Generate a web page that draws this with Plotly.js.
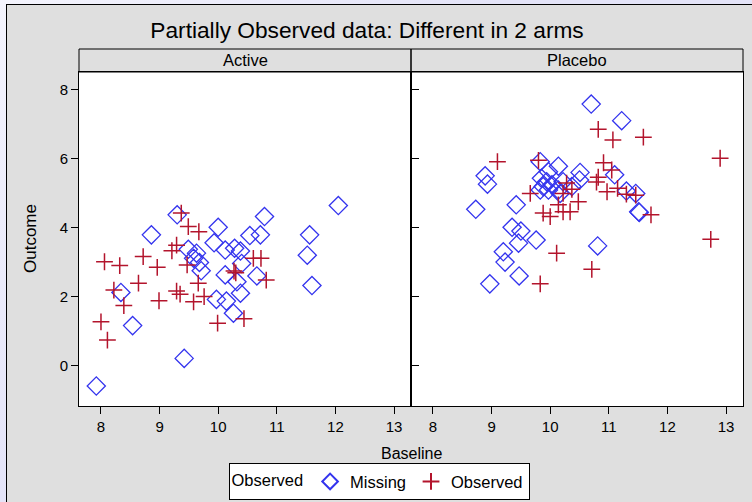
<!DOCTYPE html>
<html>
<head>
<meta charset="utf-8">
<script src="https://cdn.plot.ly/plotly-3.0.1.min.js"></script>
<style>
  html, body { margin: 0; padding: 0; width: 752px; height: 502px; overflow: hidden;
    background: linear-gradient(135deg, #f4f4fd 0%, #e4e4f8 40%, #e4e4f8 100%); }
  #frame { position: absolute; left: 6px; top: 4px; width: 800px; height: 600px;
    border-left: 1px solid #000; border-top: 1px solid #000; background: #dfdfdf; }
  #chart { position: absolute; left: 0; top: 0; width: 746px; height: 497px; }
</style>
</head>
<body>
<div id="frame"><div id="chart"></div></div>
<script>
// Active arm: baseline / outcome, missing outcomes shown as diamonds
const activeMissX = [7.92, 9.42, 8.54, 8.34, 8.86, 9.30, 10.00, 9.93, 9.49, 9.63, 9.58, 9.68, 9.71,
  10.12, 10.28, 10.38, 10.40, 10.12, 10.32, 10.66, 10.38, 9.97, 10.14, 10.26, 10.54, 10.72, 10.79,
  11.56, 11.52, 11.60, 12.05];
const activeMissY = [-0.58, 0.22, 1.17, 2.13, 3.80, 4.38, 4.02, 3.57, 3.38, 3.27, 3.12, 3.00, 2.76,
  3.36, 3.41, 3.33, 2.97, 2.64, 2.44, 2.61, 2.11, 1.93, 1.88, 1.53, 3.78, 3.80, 4.33,
  3.80, 3.21, 2.33, 4.65];
const activeObsX = [9.37, 9.49, 9.67, 8.72, 8.06, 8.32, 8.96, 9.29, 9.21, 9.47, 9.66, 8.64, 8.22,
  9.29, 9.35, 8.99, 8.39, 9.58, 9.76, 8.00, 8.11, 9.99, 10.27, 10.30, 10.44, 10.60, 10.73, 10.82];
const activeObsY = [4.43, 4.04, 3.89, 3.17, 3.02, 2.91, 2.86, 3.50, 3.34, 2.93, 2.40, 2.40, 2.20,
  2.17, 2.08, 1.89, 1.75, 1.86, 2.01, 1.28, 0.75, 1.24, 2.75, 2.70, 1.37, 3.12, 3.12, 2.49];

// Placebo arm
const placeboMissX = [8.89, 8.93, 8.73, 9.42, 9.35, 9.50, 9.46, 9.76, 9.20, 9.23, 9.47, 8.97,
  9.83, 10.14, 9.97, 9.85, 9.94, 9.88, 9.97, 9.83, 10.03, 10.22, 10.14, 10.37, 10.50, 10.51,
  10.70, 11.22, 11.10, 11.30, 11.46, 11.51, 11.52, 10.81, 10.17];
const placeboMissY = [5.51, 5.27, 4.54, 4.67, 4.02, 3.91, 3.56, 3.65, 3.31, 3.01, 2.61, 2.38,
  5.92, 5.79, 5.63, 5.44, 5.34, 5.20, 5.10, 5.10, 5.25, 5.34, 5.10, 5.20, 5.39, 5.61,
  7.59, 7.11, 5.54, 5.07, 5.00, 4.47, 4.45, 3.48, 5.00];
const placeboObsX = [9.10, 9.80, 9.66, 9.88, 10.00, 10.22, 10.14, 10.11, 9.83, 10.28, 10.37, 10.22,
  10.48, 10.34, 10.82, 11.07, 11.59, 12.90, 10.91, 11.05, 10.82, 10.79, 10.97, 11.15, 11.30, 11.46,
  11.72, 12.74, 10.71];
const placeboObsY = [5.92, 5.96, 5.00, 4.43, 4.33, 4.47, 4.67, 3.27, 2.38, 5.30, 5.12, 5.00,
  4.76, 4.47, 6.86, 6.55, 6.63, 6.02, 5.89, 5.68, 5.47, 5.33, 5.05, 5.15, 4.98, 4.95,
  4.38, 3.67, 2.80];

const panelNames = ['Active', 'Placebo'];
const xTicks = [8, 9, 10, 11, 12, 13];
const yTicks = [0, 2, 4, 6, 8];
const legendTitle = 'Observed';
const seriesNames = ['Missing', 'Observed'];

const FONT = 'Liberation Sans, Arial, sans-serif';
const BLUE = '#3434ee';
const RED = '#b3142c';

const missMarker = { symbol: 'diamond-open', size: 14, color: BLUE, line: { color: BLUE, width: 1.3 } };
const obsMarker = { symbol: 'cross-thin-open', size: 12, color: RED, line: { color: RED, width: 1.5 } };

const traces = [
  { x: activeMissX, y: activeMissY, xaxis: 'x', yaxis: 'y', type: 'scatter', mode: 'markers',
    name: seriesNames[0], marker: missMarker, legendgroup: 'm', hoverinfo: 'x+y' },
  { x: placeboMissX, y: placeboMissY, xaxis: 'x2', yaxis: 'y', type: 'scatter', mode: 'markers',
    name: seriesNames[0], marker: missMarker, legendgroup: 'm', showlegend: false, hoverinfo: 'x+y' },
  { x: activeObsX, y: activeObsY, xaxis: 'x', yaxis: 'y', type: 'scatter', mode: 'markers',
    name: seriesNames[1], marker: obsMarker, legendgroup: 'o', hoverinfo: 'x+y' },
  { x: placeboObsX, y: placeboObsY, xaxis: 'x2', yaxis: 'y', type: 'scatter', mode: 'markers',
    name: seriesNames[1], marker: obsMarker, legendgroup: 'o', showlegend: false, hoverinfo: 'x+y' }
];

const xAxisBase = {
  range: [7.625, 13.29], tickvals: xTicks, ticks: 'outside', ticklen: 7, tickwidth: 1,
  tickcolor: '#000', showline: true, linecolor: '#000', linewidth: 1, mirror: true,
  showgrid: false, zeroline: false, tickfont: { family: FONT, size: 15, color: '#000' }
};

const layout = {
  width: 746, height: 497,
  margin: { l: 72, r: 10, t: 67, b: 96 },
  paper_bgcolor: '#dfdfdf', plot_bgcolor: '#ffffff',
  font: { family: FONT, color: '#000' },
  title: { text: 'Partially Observed data: Different in 2 arms', font: { family: FONT, size: 22.7, color: '#000' },
    x: 0.4826, xref: 'container', xanchor: 'center', y: 0.95, yref: 'container', yanchor: 'middle' },
  xaxis: Object.assign({}, xAxisBase, { domain: [0, 0.5], anchor: 'y' }),
  xaxis2: Object.assign({}, xAxisBase, { domain: [0.5, 1], anchor: 'y' }),
  yaxis: {
    range: [-1.16, 8.52], tickvals: yTicks, ticks: 'outside', ticklen: 7, tickwidth: 1,
    tickcolor: '#000', showline: true, linecolor: '#000', linewidth: 1, mirror: 'all',
    showgrid: false, zeroline: false, anchor: 'x',
    tickfont: { family: FONT, size: 15, color: '#000' }
  },
  showlegend: true,
  legend: {
    orientation: 'h', xref: 'container', yref: 'container', x: 0.4987, xanchor: 'center',
    y: 0.078, yanchor: 'top', bgcolor: '#ffffff', bordercolor: '#000', borderwidth: 1,
    font: { family: FONT, size: 16.5, color: '#000' },
    title: { text: legendTitle, side: 'left', font: { family: FONT, size: 16.5, color: '#000' } },
    itemsizing: 'constant', tracegroupgap: 0
  },
  shapes: [0, 1].map(i => ({
    type: 'rect', xref: 'paper', x0: i * 0.5, x1: (i + 1) * 0.5,
    yref: 'paper', ysizemode: 'pixel', yanchor: 1, y0: 0, y1: 23,
    line: { color: '#000', width: 1 }, fillcolor: 'rgba(0,0,0,0)', layer: 'above'
  })),
  annotations: [
    ...panelNames.map((t, i) => ({
      text: t, xref: 'paper', yref: 'paper', x: 0.25 + 0.5 * i, y: 1, yshift: 12,
      xanchor: 'center', yanchor: 'middle', showarrow: false,
      font: { family: FONT, size: 16.5, color: '#000' }
    })),
    { text: 'Baseline', xref: 'paper', yref: 'paper', x: 0.5, y: 0, yshift: -47,
      xanchor: 'center', yanchor: 'middle', showarrow: false, font: { family: FONT, size: 16, color: '#000' } },
    { text: 'Outcome', xref: 'paper', yref: 'paper', x: 0, xshift: -49, y: 0.5, textangle: -90,
      xanchor: 'center', yanchor: 'middle', showarrow: false, font: { family: FONT, size: 17, color: '#000' } }
  ]
};

Plotly.newPlot('chart', traces, layout, { displayModeBar: false, staticPlot: true });
</script>
</body>
</html>
